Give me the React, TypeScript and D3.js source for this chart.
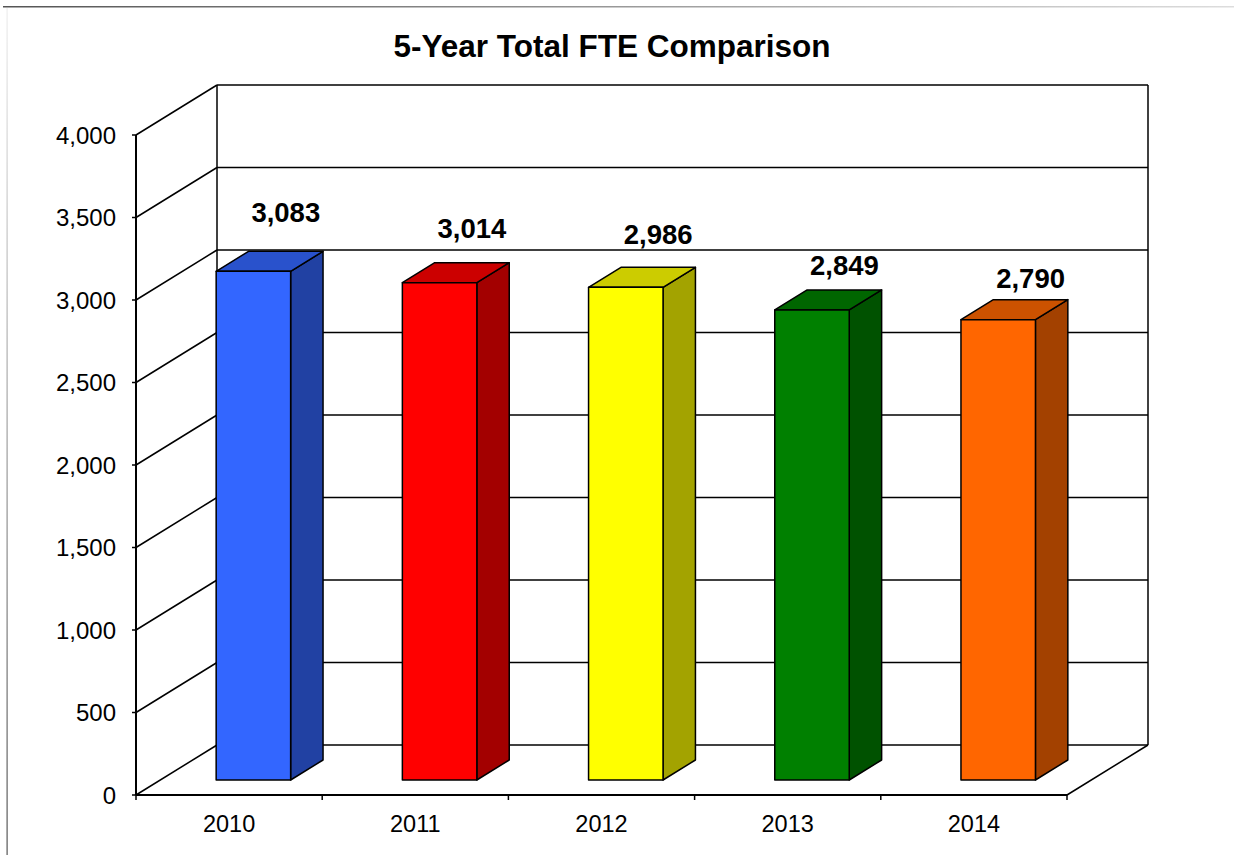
import React from "react";
import * as d3 from "d3";

const years = ["2010", "2011", "2012", "2013", "2014"];
const fteValues = [3083, 3014, 2986, 2849, 2790];
const valueLabels = ["3,083", "3,014", "2,986", "2,849", "2,790"];
const yTicks = [0, 500, 1000, 1500, 2000, 2500, 3000, 3500, 4000];
const frontColors = ["#3366FF", "#FF0000", "#FFFF00", "#008000", "#FF6600"];
const title = "5-Year Total FTE Comparison";

const W = 1234;
const H = 855;
const DX = 81;
const DY = -50;
const FONT = "Arial, 'Liberation Sans', Helvetica, sans-serif";

function shade(c: string, k: number) {
  const r = d3.rgb(c);
  return d3.rgb(r.r * k, r.g * k, r.b * k).formatHex();
}

export default function App() {
  const y = d3.scaleLinear().domain([0, 4000]).range([795, 135]);
  const x = d3
    .scaleBand<string>()
    .domain(years)
    .range([136, 1067])
    .paddingInner(0.6)
    .paddingOuter(0.3);
  const labelY = d3.scaleLinear().domain([0, 4000]).range([916, 16]);
  const x0 = 136;
  const x1 = 1067;
  const p = (px: number, py: number, d: number) => [px + d * DX, py + d * DY];
  const pts = (arr: number[][]) => arr.map((a) => a.join(",")).join(" ");
  const fmt = d3.format(",");
  const bw = x.bandwidth();
  const dFront = 0.3;
  const dBack = 0.7;

  return (
    <svg
      width={W}
      height={H}
      style={{ position: "absolute", left: 0, top: 0, background: "#fff" }}
    >
      <defs>
        <linearGradient id="topEdge" x1="0" x2="1" y1="0" y2="0">
          <stop offset="0" stopColor="#555" />
          <stop offset="1" stopColor="#ddd" />
        </linearGradient>
        <linearGradient id="leftEdge" x1="0" x2="0" y1="0" y2="1">
          <stop offset="0" stopColor="#eee" />
          <stop offset="1" stopColor="#555" />
        </linearGradient>
      </defs>
      <rect x={3} y={6} width={W - 3} height={1.5} fill="url(#topEdge)" />
      <rect x={6.5} y={8} width={1.2} height={H - 8} fill="url(#leftEdge)" />

      <text
        x={612}
        y={57}
        textAnchor="middle"
        fontFamily={FONT}
        fontWeight="bold"
        fontSize={31.5}
      >
        {title}
      </text>

      {/* back wall gridlines */}
      {yTicks.map((t) => {
        const [ax, ay] = p(x0, y(t), 1);
        const [bx] = p(x1, y(t), 1);
        return (
          <line key={"bg" + t} x1={ax} y1={ay} x2={bx} y2={ay} stroke="#000" strokeWidth={1.5} />
        );
      })}
      {/* side wall gridlines */}
      {yTicks.map((t) => {
        const [bx, by] = p(x0, y(t), 1);
        return (
          <line key={"sg" + t} x1={x0} y1={y(t)} x2={bx} y2={by} stroke="#000" strokeWidth={1.5} />
        );
      })}
      {/* back wall edges */}
      {[x0, x1].map((xx) => {
        const [a, b] = p(xx, y(0), 1);
        const [, c] = p(xx, y(4000), 1);
        return <line key={"be" + xx} x1={a} y1={b} x2={a} y2={c} stroke="#000" strokeWidth={1.5} />;
      })}
      {/* floor right edge */}
      {(() => {
        const [a, b] = p(x1, y(0), 1);
        return <line x1={x1} y1={y(0)} x2={a} y2={b} stroke="#000" strokeWidth={1.5} />;
      })()}
      {/* floor front line */}
      <line x1={x0} y1={y(0)} x2={x1} y2={y(0)} stroke="#000" strokeWidth={2} />
      {/* front value axis */}
      <line x1={x0} y1={y(0)} x2={x0} y2={y(4000)} stroke="#000" strokeWidth={2} />
      {yTicks.map((t) => (
        <g key={"yt" + t}>
          <line x1={x0 - 4} y1={y(t)} x2={x0} y2={y(t)} stroke="#000" strokeWidth={1.5} />
          <text
            x={116}
            y={y(t)}
            dy="0.36em"
            textAnchor="end"
            fontFamily={FONT}
            fontSize={24}
          >
            {fmt(t)}
          </text>
        </g>
      ))}
      {/* category ticks */}
      {d3.range(years.length + 1).map((i) => {
        const xx = x0 + i * x.step();
        return <line key={"ct" + i} x1={xx} y1={y(0)} x2={xx} y2={y(0) + 5} stroke="#000" strokeWidth={1.5} />;
      })}
      {years.map((yr) => (
        <text
          key={"cl" + yr}
          x={(x(yr) as number) + bw / 2}
          y={832}
          textAnchor="middle"
          fontFamily={FONT}
          fontSize={23.5}
        >
          {yr}
        </text>
      ))}

      {/* bars */}
      {years.map((yr, i) => {
        const v = fteValues[i];
        const bx = x(yr) as number;
        const c = frontColors[i];
        const fl = p(bx, y(0), dFront);
        const fr = p(bx + bw, y(0), dFront);
        const tl = p(bx, y(v), dFront);
        const tr = p(bx + bw, y(v), dFront);
        const btl = p(bx, y(v), dBack);
        const btr = p(bx + bw, y(v), dBack);
        const bbr = p(bx + bw, y(0), dBack);
        return (
          <g key={"bar" + yr} stroke="#000" strokeWidth={1.5} strokeLinejoin="round">
            <polygon points={pts([tr, btr, bbr, fr])} fill={shade(c, 0.64)} />
            <polygon points={pts([tl, btl, btr, tr])} fill={shade(c, 0.8)} />
            <polygon points={pts([fl, tl, tr, fr])} fill={c} />
          </g>
        );
      })}

      {/* value labels */}
      {years.map((yr, i) => {
        const v = fteValues[i];
        const [cx] = p((x(yr) as number) + bw / 2, y(v), dBack);
        return (
          <text
            key={"vl" + yr}
            x={cx}
            y={labelY(v)}
            textAnchor="middle"
            fontFamily={FONT}
            fontWeight="bold"
            fontSize={27.5}
          >
            {valueLabels[i]}
          </text>
        );
      })}
    </svg>
  );
}
